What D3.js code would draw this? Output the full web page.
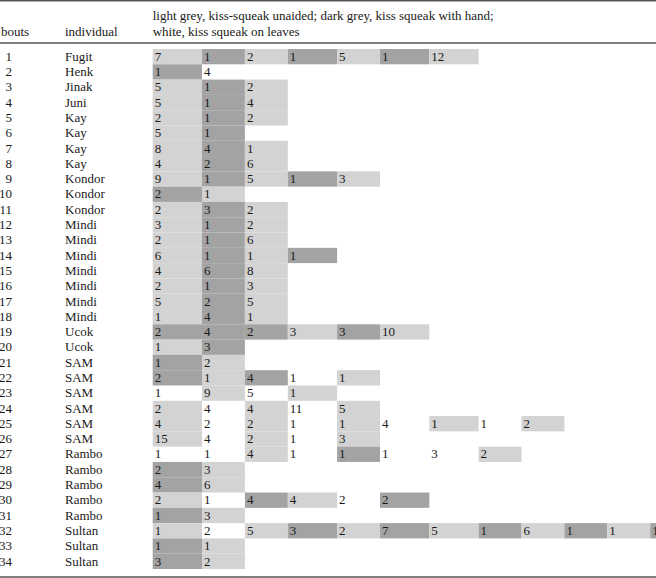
<!DOCTYPE html>
<html>
  <head>
    <meta charset="utf-8">
    <title>Kiss-squeak bouts</title>
    <style>
      body { margin: 0; background: #fff; }
      svg text { font-family: "Liberation Serif", "DejaVu Serif", serif; font-size: 13px; fill: #1a1a1a; }
      .rule { stroke: #555; stroke-width: 1.5px; }
    </style>
  </head>
  <body>
    <div id="chart"></div>
    <script src="https://d3js.org/d3.v7.min.js"></script>
    <script>
      // bout number and individual per row
      const bouts = [1,2,3,4,5,6,7,8,9,10,11,12,13,14,15,16,17,18,19,20,21,22,23,24,25,26,27,28,29,30,31,32,33,34];
      const individuals = ["Fugit","Henk","Jinak","Juni","Kay","Kay","Kay","Kay","Kondor","Kondor","Kondor",
        "Mindi","Mindi","Mindi","Mindi","Mindi","Mindi","Mindi","Ucok","Ucok","SAM","SAM","SAM","SAM","SAM","SAM",
        "Rambo","Rambo","Rambo","Rambo","Rambo","Sultan","Sultan","Sultan"];

      // number of kiss-squeaks in each consecutive run of a bout
      const counts = [
        [7,1,2,1,5,1,12], [1,4], [5,1,2], [5,1,4], [2,1,2], [5,1], [8,4,1], [4,2,6],
        [9,1,5,1,3], [2,1], [2,3,2], [3,1,2], [2,1,6], [6,1,1,1], [4,6,8], [2,1,3],
        [5,2,5], [1,4,1], [2,4,2,3,3,10], [1,3], [1,2], [2,1,4,1,1], [1,9,5,1],
        [2,4,4,11,5], [4,2,2,1,1,4,1,1,2], [15,4,2,1,3], [1,1,4,1,1,1,3,2], [2,3],
        [4,6], [2,1,4,4,2,2], [1,3], [1,2,5,3,2,7,5,1,6,1,1,1], [1,1], [3,2]
      ];
      // variant of each run: L unaided, D with hand, W on leaves
      const variants = [
        "LDLDLDL", "DW", "LDL", "LDL", "LDL", "LD", "LDL", "LDL",
        "LDLDL", "DL", "LDL", "LDL", "LDL", "LDLD", "LDL", "LDL",
        "LDL", "LDL", "DDDLDL", "LD", "DL", "DLDWL", "WLWL",
        "LWLWL", "LWLWLWLWL", "LWLWL", "WWLWDWWL", "DL",
        "DL", "LWDLWD", "DL", "LWLDLDLDLDLD", "DL", "DL"
      ];
      const headerLines = [
        "light grey, kiss-squeak unaided; dark grey, kiss squeak with hand;",
        "white, kiss squeak on leaves"
      ];

      const width = 656, height = 578;
      const fills = { L: "#d3d3d3", D: "#a3a3a3", W: "none" };

      const svg = d3.select("#chart").append("svg")
          .attr("width", width)
          .attr("height", height);

      // rows
      const y = d3.scaleBand().domain(bouts).range([49, 569]);

      // columns: wider where a two-digit count occurs
      const nCols = d3.max(counts, r => r.length);
      const colW = d3.range(nCols).map(i =>
        d3.max(counts, r => r[i] === undefined ? 0 : r[i]) >= 10 ? 49.3 : 42.9);
      const starts = colW.map((w, i) => 152.7 + d3.sum(colW.slice(0, i)));
      const x = d3.scaleOrdinal().domain(d3.range(nCols)).range(starts);

      // rules
      [[0.8], [43], [577]].forEach(([yy]) => {
        svg.append("line").attr("class", "rule")
          .attr("x1", 0).attr("x2", width).attr("y1", yy).attr("y2", yy);
      });

      // header
      svg.append("text").attr("x", 1).attr("y", 35.5).text("bouts");
      svg.append("text").attr("x", 65).attr("y", 35.5).text("individual");
      headerLines.forEach((t, i) => {
        svg.append("text").attr("x", 152.7).attr("y", 19.5 + i * 16).text(t);
      });

      const rows = svg.selectAll(".row")
        .data(bouts.map((b, i) => ({ b, name: individuals[i], vals: counts[i], kinds: variants[i] })))
        .enter().append("g")
          .attr("class", "row")
          .attr("transform", d => `translate(0,${y(d.b)})`);

      rows.append("text")
          .attr("x", 12).attr("y", 11.8)
          .attr("text-anchor", "end")
          .text(d => d.b);
      rows.append("text")
          .attr("x", 65).attr("y", 11.8)
          .text(d => d.name);

      const cells = rows.selectAll(".cell")
        .data(d => d.vals.map((v, i) => ({ v, i, k: d.kinds[i] })))
        .enter().append("g")
          .attr("class", "cell")
          .attr("transform", d => `translate(${x(d.i)},0)`);

      cells.append("rect")
          .attr("width", d => colW[d.i])
          .attr("height", y.bandwidth())
          .attr("fill", d => fills[d.k]);

      cells.append("text")
          .attr("x", 2).attr("y", 11.8)
          .text(d => d.v);
    </script>
  </body>
</html>
